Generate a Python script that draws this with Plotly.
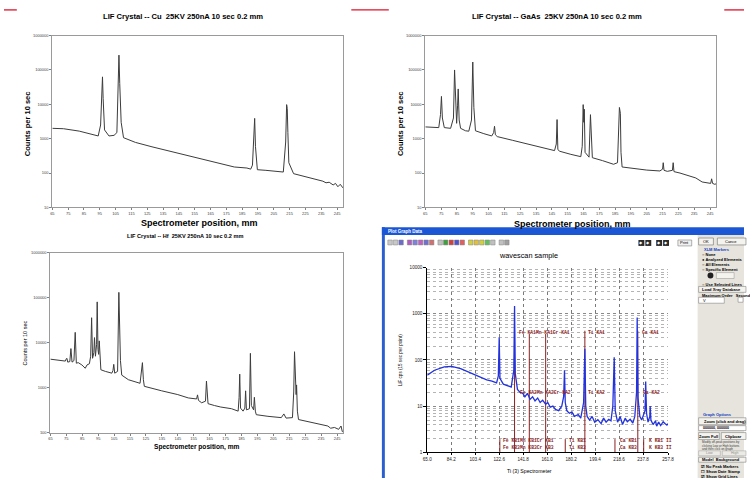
import math
import plotly.graph_objects as go

W, H = 750, 481


def px(x):
    return x / W


def py(y):
    return 1 - y / H


# ---------------- data ----------------
excel_x_ticks = [65, 75, 85, 95, 105, 115, 125, 135, 145, 155, 165, 175, 185, 195, 205, 215, 225, 235, 245]
excel_y_ticks = [10, 100, 1000, 10000, 100000, 1000000]
excel_y_labels = ["10", "100", "1000", "10000", "100000", "1000000"]

cu_pos = [65, 72, 82, 90, 94.0, 95.5, 96.3, 96.7, 97.1, 98, 100.8, 104, 105.8, 106.6, 107.1, 107.6, 108.5,
          110, 117.5, 128, 138, 148, 159, 170, 180, 188, 190.4, 191.5, 192.3, 192.9, 193.4, 194.6, 200, 206,
          211, 212.5, 213.1, 213.5, 213.9, 214.5, 217.5, 224, 232, 236, 238, 240, 242.5, 244, 245.5, 247, 248.7]
cu_counts = [2000, 1950, 1660, 1350, 1200, 2500, 20000, 63000, 15000, 1800, 1200, 1250, 1500, 30000, 270000,
             40000, 3000, 1070, 780, 580, 450, 350, 260, 200, 150, 140, 130, 170, 1500, 3900, 600, 125, 120, 112,
             107, 800, 9800, 7500, 1500, 200, 96, 80, 62, 58, 52, 54, 45, 50, 40, 47, 37]

gaas_pos = [65, 70, 73.5, 74.6, 75.2, 75.8, 77, 81, 82.8, 83.5, 84.2, 84.8, 85.4, 85.8, 86.4, 87.3, 90.4, 92.5,
            94.2, 95, 95.7, 96.7, 102, 107, 108.2, 108.75, 109.3, 110.5, 120, 128, 138, 146.7, 147.8, 148.3,
            148.8, 150, 157, 163.3, 164.2, 164.8, 165.2, 165.5, 166.0, 168.5, 169.4, 170.1, 170.6, 177, 184,
            186.5, 187.2, 187.7, 188.3, 188.7, 189.4, 196, 205, 213.3, 215.0, 215.4, 215.9, 218, 221.2, 221.7,
            222.2, 226, 232, 236, 240, 243, 245.4, 246, 246.6, 248, 249]
gaas_counts = [2200, 2150, 2100, 5000, 17000, 4000, 2100, 2000, 4000, 100000, 6000, 2800, 9000, 28000, 3500,
               2000, 1700, 1650, 3500, 170000, 8000, 1700, 1400, 1200, 1500, 2300, 1300, 1150, 900, 720, 560, 450,
               700, 3600, 480, 430, 350, 300, 600, 9800, 3000, 7200, 400, 290, 5000, 350, 280, 230, 180, 200,
               1500, 8100, 5500, 400, 150, 135, 122, 115, 130, 200, 120, 112, 120, 200, 110, 100, 80, 72, 55, 52,
               50, 68, 50, 47, 49]

hf_pos = [65, 70, 74.4, 75.0, 75.4, 75.9, 77.2, 77.9, 78.6, 79.8, 80.6, 81.3, 82.5, 84.8, 86.9, 88, 89.5, 90.3,
          90.9, 91.5, 92.3, 92.7, 93.3, 94.0, 94.4, 94.9, 95.3, 95.7, 96.2, 96.7, 99.5, 103.6, 104.3, 104.8,
          105.4, 107.2, 108, 108.4, 108.6, 109.0, 109.8, 114, 121.3, 122.3, 122.8, 123.4, 124, 134.9, 145, 151.6,
          156.8, 157.4, 158, 160, 162.4, 163, 163.6, 164, 168, 172, 178.7, 182.9, 183.5, 183.9, 184.4, 186,
          187.1, 187.6, 188.1, 190, 190.6, 191.2, 192.6, 193.1, 193.7, 194.3, 201.6, 210, 211.6, 213, 217,
          217.8, 218.3, 218.9, 219.3, 219.6, 220.1, 220.8, 230.8, 235, 239.2, 241, 243.4, 246, 247.5, 248.3,
          249.6]
hf_counts = [4300, 4100, 3900, 4400, 4500, 3700, 3800, 7400, 3700, 4000, 17000, 3500, 3600, 3200, 2700, 3200,
             3400, 5000, 36000, 4500, 6000, 13000, 5000, 9000, 81000, 7000, 5500, 11000, 3500, 2500, 2300, 2100,
             2400, 3300, 2100, 2300, 132000, 20000, 16000, 4000, 1900, 1500, 1250, 2500, 3600, 1500, 1070, 850,
             700, 590, 560, 690, 520, 460, 500, 1400, 480, 440, 400, 370, 340, 300, 600, 2000, 350, 300, 350,
             850, 320, 340, 5800, 400, 320, 610, 300, 250, 230, 215, 260, 210, 215, 800, 6300, 900, 700, 1150,
             300, 195, 165, 155, 140, 125, 130, 118, 140, 105, 100]

ws_x_ticks = [65.0, 84.2, 103.4, 122.6, 141.8, 161.0, 180.2, 199.4, 218.6, 237.8, 257.8]
ws_y_ticks = [1, 10, 100, 1000, 10000]
ws_pos = [65, 70.8, 78.6, 84.6, 91.7, 102.2, 106.6, 112.6, 116.8, 120.5, 121.9, 122.6, 123.2, 125.9, 129.0,
          132.2, 134.3, 134.9, 135.5, 137.2, 139.2, 141.5, 143.2, 145.2, 147.3, 149.3, 151.3, 153.4, 155.4,
          157.4, 159.8, 161.5, 163.5, 165.6, 167.6, 170.2, 172.7, 174.2, 174.9, 175.5, 176.7, 178.8, 180.8,
          182.8, 185.9, 187.9, 190.2, 191.2, 191.9, 193.0, 195.0, 197.0, 199.1, 201.6, 204.2, 206.2, 208.2,
          210.3, 212.1, 213.6, 214.7, 215.5, 217.4, 219.4, 221.4, 223.5, 225.2, 227.5, 229.6, 231.2, 232.6,
          233.1, 233.8, 235.2, 236.7, 239.4, 239.9, 240.6, 241.8, 243.2, 243.5, 244.1, 245.8, 247.8, 248.7,
          250.3, 251.9, 253.9, 255.3, 256.9, 257.8]
ws_cps = [47, 60, 71, 73, 65, 49, 44, 37, 35, 32, 45, 310, 40, 30, 28, 26, 60, 1480, 50, 23, 20, 19, 16, 19, 14,
          16, 13, 15, 12, 13.5, 11, 12, 9.5, 10, 8.5, 8, 10, 16, 60, 12, 8, 7, 7.5, 6, 6.6, 5.5, 12, 175, 10, 6,
          5, 6, 4.5, 5.1, 4.2, 5.5, 4.5, 5.2, 4.8, 10, 115, 8, 4.5, 6, 4, 5.5, 4.6, 5.2, 4.3, 6, 20, 830, 15, 6,
          5, 8, 34, 7, 4.5, 6, 10, 5, 4, 4.8, 3.7, 4.5, 3.8, 4.6, 4.2, 3.9, 4.2]

ka_line_pos = [134.9, 146.7, 159.8, 191.2, 233.6]
ka_line_top = [430, 365, 365, 430, 430]
kb_line_pos = [123.1, 175.5, 215.3, 238.3]
kb_line_top = [1.93, 1.93, 1.93, 1.93]

# marker label rows: (text, left x, cps level)
ka1_labels = ["Fe KA1Mn KA1Cr KA1", "Ti KA1", "Ca KA1"]
ka1_label_x = [136.5, 192.3, 235.5]
ka2_labels = ["Fe KA2Mn KA2Cr KA2", "Ti KA2", "Ca KA2"]
ka2_label_x = [137.5, 192.3, 236.0]
kb1_labels = ["Fe KB1Mn KB1Cr KB1", "Ti KB1", "Ca KB1", "K KB1 II"]
kb1_label_x = [124.4, 176.8, 217.4, 241.0]
kb3_labels = ["Fe KB3Mn KB3Cr KB3", "Ti KB3", "Ca KB3", "K KB3 II"]
kb3_label_x = [124.4, 176.8, 217.4, 241.0]
row_levels = [400, 20, 1.84, 1.28]

assert len(cu_pos) == len(cu_counts)
assert len(gaas_pos) == len(gaas_counts)
assert len(hf_pos) == len(hf_counts)
assert len(ws_pos) == len(ws_cps)

# ---------------- figure ----------------
fig = go.Figure()
LINE = "#3c3c3c"
fig.add_trace(go.Scatter(x=cu_pos, y=cu_counts, mode="lines", line=dict(color=LINE, width=1),
                         xaxis="x", yaxis="y", showlegend=False, hoverinfo="skip"))
fig.add_trace(go.Scatter(x=gaas_pos, y=gaas_counts, mode="lines", line=dict(color=LINE, width=1),
                         xaxis="x2", yaxis="y2", showlegend=False, hoverinfo="skip"))
fig.add_trace(go.Scatter(x=hf_pos, y=hf_counts, mode="lines", line=dict(color=LINE, width=1),
                         xaxis="x3", yaxis="y3", showlegend=False, hoverinfo="skip"))

mx, my = [], []
for xp, top in zip(ka_line_pos, ka_line_top):
    mx += [xp, xp, None]
    my += [1, top, None]
for xp, top in zip(kb_line_pos, kb_line_top):
    mx += [xp, xp, None]
    my += [0.95, top, None]
fig.add_trace(go.Scatter(x=mx, y=my, mode="lines", line=dict(color="#8b1f1f", width=1),
                         xaxis="x4", yaxis="y4", showlegend=False, hoverinfo="skip", cliponaxis=False))
fig.add_trace(go.Scatter(x=ws_pos, y=ws_cps, mode="lines", line=dict(color="#2233dd", width=1.3),
                         xaxis="x4", yaxis="y4", showlegend=False, hoverinfo="skip"))


def excel_x(domain, size):
    return dict(domain=domain, range=[65, 249], tickmode="array", tickvals=excel_x_ticks,
                ticktext=[str(v) for v in excel_x_ticks],
                tickfont=dict(size=size, color="#404040", family="Liberation Sans"),
                ticks="outside", ticklen=2, tickcolor="#808080", showline=True, linecolor="#9a9a9a",
                mirror=True, showgrid=False, zeroline=False, fixedrange=True)


def excel_y(domain, anchor, lo, size):
    return dict(domain=domain, anchor=anchor, type="log", range=[lo, 6], tickmode="array",
                tickvals=excel_y_ticks, ticktext=excel_y_labels,
                tickfont=dict(size=size, color="#404040", family="Liberation Sans"), ticks="outside",
                ticklen=2, tickcolor="#808080", showline=True, linecolor="#9a9a9a", mirror=True,
                showgrid=False, zeroline=False, fixedrange=True)


d1x = [px(49), px(344)]
d2x = [px(427), px(722)]
dtop = [py(207), py(33)]
d3x = [px(47), px(344)]
d3y = [py(435), py(253)]
d4x = [px(429), px(673)]
d4y = [py(455), py(268)]

fig.update_layout(
    width=W, height=H, margin=dict(l=0, r=0, t=0, b=0),
    paper_bgcolor="white", plot_bgcolor="white",
    font=dict(family="Liberation Sans", color="#000000"),
    xaxis=dict(excel_x(d1x, 4), anchor="y"),
    yaxis=excel_y(dtop, "x", 1, 4),
    xaxis2=dict(excel_x(d2x, 4), anchor="y2"),
    yaxis2=excel_y(dtop, "x2", 1, 4),
    xaxis3=dict(excel_x(d3x, 4), anchor="y3"),
    yaxis3=excel_y(d3y, "x3", 2, 4),
)

shapes = []
ann = []


def rect(x0, y0, x1, y1, fill, line="rgba(0,0,0,0)", lw=0, layer="below"):
    shapes.append(dict(type="rect", xref="paper", yref="paper", x0=px(x0), x1=px(x1), y0=py(y1), y1=py(y0),
                       fillcolor=fill, line=dict(color=line, width=lw), layer=layer))


def text(t, x, y, size, color="#000000", bold=False, xanchor="center", yanchor="middle", angle=0,
         family="Liberation Sans"):
    ann.append(dict(text=("<b>%s</b>" % t) if bold else t, x=px(x), y=py(y), xref="paper", yref="paper",
                    showarrow=False, xanchor=xanchor, yanchor=yanchor, textangle=angle,
                    font=dict(size=size, color=color, family=family)))


for x0, x1 in [(0, 13), (352, 390), (730, 750)]:
    shapes.append(dict(type="line", xref="paper", yref="paper", x0=px(x0), x1=px(x1), y0=py(7), y1=py(7),
                       line=dict(color="#e0102a", width=1.3)))

text("LIF Crystal -- Cu  25KV 250nA 10 sec 0.2 mm", 181, 14, 7.6, bold=True)
text("LIF Crystal -- GaAs  25KV 250nA 10 sec 0.2 mm", 560, 14, 7.6, bold=True)
text("LIF Crystal -- Hf  25KV 250nA 10 sec 0.2 mm", 183, 236, 5.6, bold=True)
text("Spectrometer position, mm", 198, 223, 9, bold=True)
text("Spectrometer position, mm", 576, 224, 9, bold=True)
text("Spectrometer position, mm", 196, 450, 6.6, bold=True)
text("Counts per 10 sec", 24, 122, 7.5, bold=True, angle=-90)
text("Counts per 10 sec", 402, 122, 7.5, bold=True, angle=-90)
text("Counts per 10 sec", 21, 344, 5.5, angle=-90)

# ---- software window (lower right) ----
rect(383, 227, 750, 481, "#ffffff", layer="below")
rect(383, 227, 386, 481, "#2a5fd0", layer="below")
rect(383, 227, 750, 235, "#1b56d4", layer="below")
text("Plot Graph Data", 387, 231, 4.5, color="#ffffff", bold=True, xanchor="left")
icon_cols = ["#c8c8c8", "#c8c8c8", "#6b6bd0", "#b05cc0", "#8080e0", "#c060c0", "#7070d0", "#d07070",
             "#c0c0c0", "#40a040", "#d04040", "#5050d0", "#e06060", "#d0d040", "#e0c040", "#d0d040",
             "#60c060", "#c0c0c0", "#c0c0c0", "#a0a0a0"]
ix = 389
for i, c in enumerate(icon_cols):
    rect(ix, 240, ix + 4.5, 245, c, line="#808080", lw=0.5, layer="above")
    ix += 5.6
    if i in (2, 7, 12, 17):
        ix += 3
for x0 in (643, 650, 661, 668):
    rect(x0, 240, x0 + 6, 246, "#2a2a2a", layer="above")
    text("◆", x0 + 3, 243, 4, color="#ffffff")
rect(683, 240, 697, 246, "#f0f0f0", line="#808080", lw=0.6, layer="above")
text("Print", 690, 243, 4, color="#000000")
text("wavescan sample", 532, 256, 7.3, color="#000000")
text("Ti (3) Spectrometer", 533, 474, 5.2)
text("LiF cps (15 sec per point)", 402, 362, 4.6, angle=-90)

rect(703, 235, 750, 481, "#e6e4dc", layer="below")
rect(704, 238, 719, 245, "#f4f3ee", line="#707070", lw=0.6, layer="above")
text("OK", 711.5, 241.5, 4)
rect(723, 238, 752, 245, "#f4f3ee", line="#707070", lw=0.6, layer="above")
text("Cance", 737, 241.5, 4)
text("XLM Markers", 707, 250, 4, color="#1040c0", bold=True, xanchor="left")
for yy, t in [(255, "○ None"), (260, "● Analyzed Elements"), (265, "○ All Elements"), (270, "○ Specific Element"),
              (285, "○ Use Selected Lines")]:
    text(t, 705, yy, 4, xanchor="left", bold=True)
shapes.append(dict(type="circle", xref="paper", yref="paper", x0=px(713), x1=px(719), y0=py(279), y1=py(273),
                   fillcolor="#202020", line=dict(width=0)))
rect(722, 273, 740, 279, "#f4f3ee", line="#909090", lw=0.5, layer="above")
rect(704, 287, 752, 293, "#f4f3ee", line="#707070", lw=0.5, layer="above")
text("Load Xray Database", 727, 290, 4, bold=True)
text("Maximum Order   Second", 705, 296, 4, xanchor="left", bold=True)
rect(704, 298, 730, 304, "#ffffff", line="#707070", lw=0.5, layer="above")
text("V", 706, 301, 4, xanchor="left")
rect(744, 298, 749, 303, "#ffffff", line="#707070", lw=0.5, layer="above")
text("Graph Options", 706, 417, 4, color="#1040c0", bold=True, xanchor="left")
rect(704, 420, 752, 427, "#f4f3ee", line="#707070", lw=0.5, layer="above")
text("Zoom (click and drag)", 707, 423.5, 4, bold=True, xanchor="left")
rect(704, 428, 752, 433, "#ffffff", line="#707070", lw=0.5, layer="above")
text("000000, 000000", 706, 430.5, 3.6, xanchor="left", bold=True)
rect(704, 435, 725, 442, "#f4f3ee", line="#707070", lw=0.5, layer="above")
text("Zoom Full", 714.5, 438.5, 4, bold=True)
rect(727, 435, 752, 442, "#f4f3ee", line="#707070", lw=0.5, layer="above")
text("Clipboar", 739, 438.5, 4, bold=True)
text("Modify off-peak positions by", 705, 445, 3, xanchor="left", color="#404040")
text("clicking Low or High buttons", 705, 448.5, 3, xanchor="left", color="#404040")
text("and then click on graph", 705, 452, 3, xanchor="left", color="#404040")
rect(704, 453.5, 726, 458.5, "#eceae4", line="#a0a0a0", lw=0.5, layer="above")
text("Low", 715, 456, 3.6, color="#909090")
rect(728, 453.5, 752, 458.5, "#eceae4", line="#a0a0a0", lw=0.5, layer="above")
text("High", 740, 456, 3.6, color="#909090")
rect(704, 460, 752, 465, "#f4f3ee", line="#707070", lw=0.5, layer="above")
text("Model  Background", 727, 462.5, 4, bold=True)
for yy, t in [(469, "☑ No Peak Markers"), (474, "☐ Show Date Stamp"), (479, "☑ Show Grid Lines")]:
    text(t, 704, yy, 4, xanchor="left", bold=True)

fig.update_layout(
    xaxis4=dict(domain=d4x, anchor="y4", range=[65, 257.8], tickmode="array", tickvals=ws_x_ticks,
                ticktext=["%.1f" % v for v in ws_x_ticks], tickfont=dict(size=4.6, color="#202020"),
                ticks="outside", ticklen=2, tickcolor="#000000", showline=True, linecolor="#000000",
                showgrid=True, gridcolor="#7a7a7a", griddash="dot", gridwidth=1, zeroline=False,
                fixedrange=True),
    yaxis4=dict(domain=d4y, anchor="x4", type="log", range=[0, 4], tickmode="array", tickvals=ws_y_ticks,
                ticktext=[str(v) for v in ws_y_ticks],
                tickfont=dict(size=4.6, color="#202020"), ticks="outside", ticklen=3, tickcolor="#000000",
                showline=True, linecolor="#000000", showgrid=True, gridcolor="#8a8a8a", griddash="dot",
                gridwidth=1, zeroline=False, fixedrange=True,
                minor=dict(dtick="D1", showgrid=True, gridcolor="#b4b4b4", griddash="dot", gridwidth=0.6)),
)


def lab(t, x, y, size=4.7):
    ann.append(dict(text="<b>%s</b>" % t, x=x, y=y, xref="x4", yref="y4", showarrow=False, xanchor="left",
                    yanchor="middle", font=dict(size=size, color="#8b1f1f", family="Liberation Mono")))


for labels, xs, lvl in [(ka1_labels, ka1_label_x, row_levels[0]), (ka2_labels, ka2_label_x, row_levels[1]),
                        (kb1_labels, kb1_label_x, row_levels[2]), (kb3_labels, kb3_label_x, row_levels[3])]:
    for t, x in zip(labels, xs):
        lab(t, x, math.log10(lvl))
lab("Fe KB5Mn KB5Cr KB5 Mn Ti Ti KB5 Ti KB5  Ca KB5Ca KB5 Ca K KB5K KB5 II", 123.5, -0.025, 4.4)

fig.update_layout(shapes=shapes, annotations=ann)
fig.write_html("out.html")
